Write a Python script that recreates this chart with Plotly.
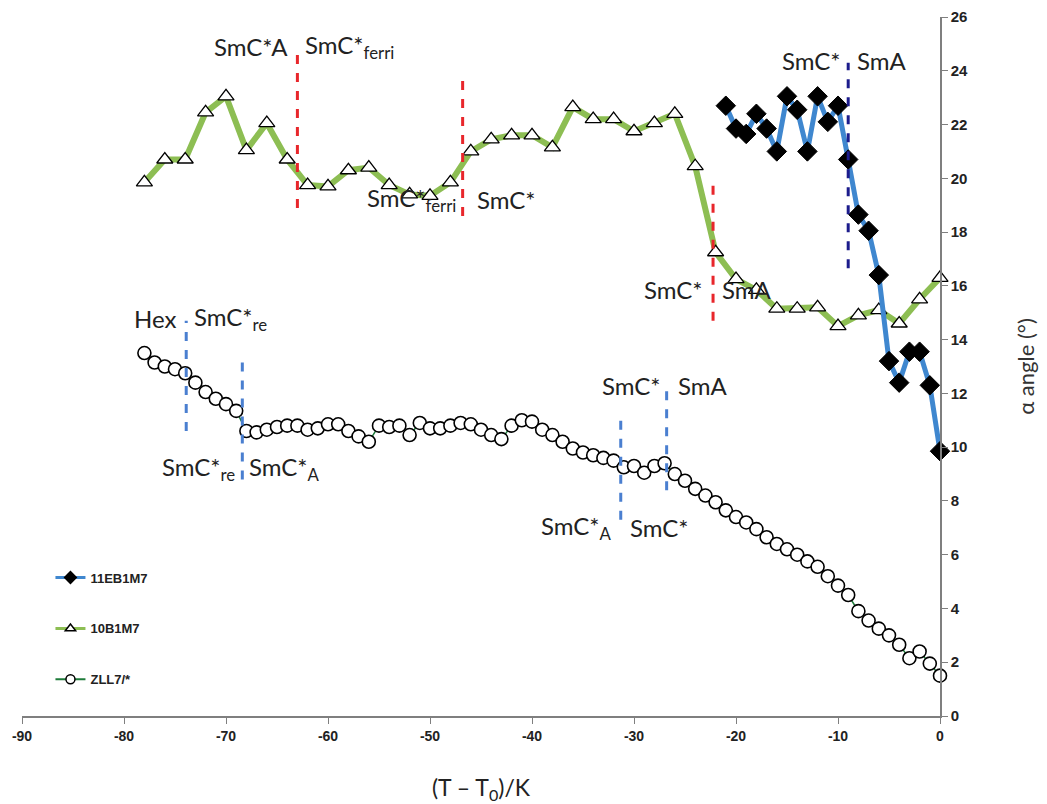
import plotly.graph_objects as go

# ---------------- data ----------------
x_11eb = list(range(-21, 1))
y_11eb = [22.7, 21.85, 21.65, 22.4, 21.85, 21.0, 23.05, 22.55, 21.0, 23.05, 22.1,
          22.7, 20.7, 18.65, 18.05, 16.4, 13.2, 12.4, 13.55, 13.55, 12.3, 9.85]

x_10b = list(range(-78, 1, 2))
y_10b = [19.85, 20.7, 20.7, 22.45, 23.05, 21.05, 22.05, 20.7, 19.75, 19.7,
         20.3, 20.4, 19.75, 19.4, 19.35, 19.85, 21.0, 21.45, 21.6, 21.6,
         21.15, 22.65, 22.2, 22.2, 21.75, 22.05, 22.4, 20.45, 17.25, 16.25,
         15.85, 15.15, 15.15, 15.2, 14.5, 14.9, 15.1, 14.6, 15.5, 16.3]

x_zll = list(range(-78, 1))
y_zll = [13.5, 13.15, 13.0, 12.9, 12.75, 12.4, 12.05, 11.8, 11.6, 11.35,
         10.6, 10.55, 10.65, 10.75, 10.8, 10.8, 10.65, 10.7, 10.85, 10.85,
         10.6, 10.4, 10.2, 10.8, 10.75, 10.8, 10.45, 10.9, 10.7, 10.7,
         10.8, 10.9, 10.85, 10.65, 10.45, 10.3, 10.8, 11.0, 10.95, 10.65,
         10.45, 10.2, 9.95, 9.8, 9.7, 9.6, 9.5, 9.25, 9.3, 9.05,
         9.3, 9.4, 9.0, 8.75, 8.45, 8.2, 7.95, 7.65, 7.4, 7.2,
         6.95, 6.65, 6.4, 6.2, 6.0, 5.75, 5.55, 5.2, 4.85, 4.5,
         3.9, 3.55, 3.25, 3.0, 2.65, 2.15, 2.4, 1.95, 1.5]

# phase transition lines (temperature, from angle, to angle, group)
trans_x = [-63.0, -46.8, -22.25, -9.0, -73.9, -68.4, -31.3, -26.8]
trans_y0 = [18.9, 18.6, 14.7, 16.65, 10.6, 8.8, 7.3, 8.4]
trans_y1 = [24.8, 23.9, 19.8, 24.3, 14.7, 13.3, 11.2, 12.4]
trans_group = ["10B1M7", "10B1M7", "10B1M7", "11EB1M7", "ZLL7", "ZLL7", "ZLL7", "ZLL7"]

# phase labels
label_text = ["SmC*A", "SmC*<sub>ferri</sub>", "SmC*<sub>ferri</sub>", "SmC*",
              "SmC*", "SmA", "SmC*", "SmA",
              "Hex", "SmC*<sub>re</sub>", "SmC*<sub>re</sub>", "SmC*<sub>A</sub>",
              "SmC*", "SmA", "SmC*<sub>A</sub>", "SmC*"]
label_x = [-63.7, -62.5, -47.3, -45.6,
           -23.0, -21.6, -9.5, -8.3,
           -74.7, -73.3, -68.9, -67.9,
           -27.2, -25.9, -32.0, -30.6]
label_y = [24.9, 24.9, 19.2, 19.2,
           15.85, 15.85, 24.4, 24.4,
           14.8, 14.8, 9.2, 9.2,
           12.3, 12.3, 7.0, 7.0]
label_side = ["right", "left", "right", "left",
              "right", "left", "right", "left",
              "right", "left", "right", "left",
              "right", "left", "right", "left"]

x_ticks = list(range(-90, 1, 10))
y_ticks = list(range(0, 27, 2))

series_names = ["11EB1M7", "10B1M7", "ZLL7/*"]

# ---------------- styles ----------------
GREEN = "#8DBE53"
BLUE = "#3F87CF"
line_colors = {"10B1M7": "#E8262B", "11EB1M7": "#1C1C8C", "ZLL7": "#4A7FD0"}
TXT = "Lato, Open Sans, sans-serif"
NARROW = "Liberation Sans Narrow, Arial Narrow, Liberation Sans, sans-serif"

fig = go.Figure()

fig.add_trace(go.Scatter(
    x=x_zll, y=y_zll, mode="lines+markers", showlegend=False, cliponaxis=False,
    line=dict(color="#1E7B3A", width=1.5),
    marker=dict(symbol="circle", size=13, color="white",
                line=dict(color="black", width=1.6))))

fig.add_trace(go.Scatter(
    x=x_10b, y=y_10b, mode="lines+markers", showlegend=False, cliponaxis=False,
    line=dict(color=GREEN, width=6),
    marker=dict(symbol="triangle-up", size=14, color="white",
                line=dict(color="black", width=1.3))))

fig.add_trace(go.Scatter(
    x=x_11eb, y=y_11eb, mode="lines+markers", showlegend=False, cliponaxis=False,
    line=dict(color=BLUE, width=5),
    marker=dict(symbol="diamond", size=15, color="black",
                line=dict(color="black", width=1))))

# legend entries (smaller symbols like the original legend)
legend_style = [
    (BLUE, 3, "diamond", 9, "black", "black"),
    (GREEN, 3, "triangle-up", 9, "white", "black"),
    ("#1E7B3A", 2, "circle", 9, "white", "black"),
]
for rank, (nm, st) in enumerate(zip(series_names, legend_style)):
    lc, lw, sym, sz, fc, mc = st
    fig.add_trace(go.Scatter(
        x=[None], y=[None], mode="lines+markers", name="<b>%s</b>" % nm,
        legendgroup=nm, legendrank=rank + 1,
        line=dict(color=lc, width=lw),
        marker=dict(symbol=sym, size=sz, color=fc, line=dict(color=mc, width=1.5))))

for xv, ya, yb, g in zip(trans_x, trans_y0, trans_y1, trans_group):
    fig.add_shape(type="line", xref="x", yref="y", x0=xv, x1=xv, y0=ya, y1=yb,
                  line=dict(color=line_colors[g], width=3, dash="dash"),
                  layer="above")

for t, xv, yv, s in zip(label_text, label_x, label_y, label_side):
    fig.add_annotation(x=xv, y=yv, xref="x", yref="y", text=t, showarrow=False,
                       xanchor=s, yanchor="middle",
                       font=dict(family=TXT, size=24, color="#222222"))

fig.update_layout(
    width=1039, height=796,
    margin=dict(l=14, r=107, t=9, b=88),
    paper_bgcolor="white", plot_bgcolor="white",
    showlegend=True,
    legend=dict(x=0.031, y=0.2195, xanchor="left", yanchor="top",
                traceorder="grouped", tracegroupgap=31,
                font=dict(family=NARROW, size=13, color="#222222"),
                bgcolor="rgba(0,0,0,0)"),
    xaxis=dict(range=[-90, 0], tickvals=x_ticks, ticktext=[str(v) for v in x_ticks],
               automargin=False,
               showgrid=False, zeroline=False, showline=True,
               linecolor="#7f7f7f", linewidth=1.5,
               ticks="outside", ticklen=6, tickcolor="#7f7f7f",
               tickfont=dict(family=NARROW, size=14, color="#222222", weight="bold"),
               title=dict(text="(T – T<sub>0</sub>)/K", standoff=38,
                          font=dict(family=TXT, size=23, color="#222222"))),
    yaxis=dict(range=[0, 26], tickvals=y_ticks, side="right", automargin=False,
               showgrid=False, zeroline=False, showline=True,
               linecolor="#7f7f7f", linewidth=1.5,
               ticks="outside", ticklen=6, tickcolor="#7f7f7f",
               tickfont=dict(family=NARROW, size=15, color="#222222", weight="bold"),
               title=dict(text="α angle (°)", standoff=52,
                          font=dict(family=TXT, size=22, color="#333333"))),
)
fig.write_html("out.html")
